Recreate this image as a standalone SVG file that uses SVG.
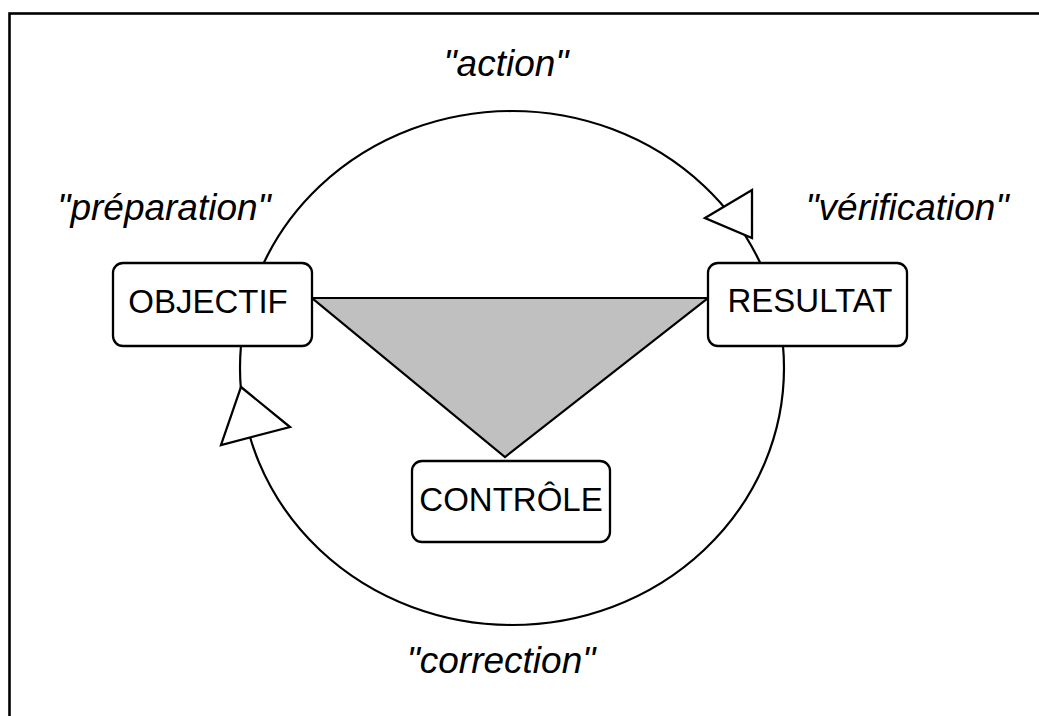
<svg xmlns="http://www.w3.org/2000/svg" width="1039" height="716" viewBox="0 0 1039 716">
<style>
.box{fill:#fff;stroke:#000;stroke-width:2.3}
.lbl{font-family:"Liberation Sans",Arial,sans-serif;font-size:33px;fill:#000;text-anchor:middle}
.it{font-family:"Liberation Sans",Arial,sans-serif;font-size:37px;font-style:italic;fill:#000;text-anchor:middle}
.line{fill:none;stroke:#000;stroke-width:2.2}
.arrow{fill:#fff;stroke:#000;stroke-width:2.3;stroke-linejoin:miter}
</style>
<rect x="0" y="0" width="1039" height="716" fill="#fff"/>
<rect x="9.5" y="13.5" width="1100" height="800" fill="none" stroke="#000" stroke-width="2.6"/>
<g id="connectors">
<ellipse class="line" cx="512" cy="368" rx="272" ry="257"/>
<polygon id="control-triangle" points="312,298 708,298 505,457" fill="#c0c0c0" stroke="#000" stroke-width="2.2" stroke-linejoin="miter"/>
<polygon class="arrow" points="705,218 752,190 752,238"/>
<polygon class="arrow" points="241,387 290,427 221,445"/>
</g>
<g id="node-objectif">
<rect class="box" x="113" y="263" width="199" height="83" rx="10"/>
<text class="lbl" x="208" y="313">OBJECTIF</text>
</g>
<g id="node-resultat">
<rect class="box" x="708" y="263" width="199" height="83" rx="10"/>
<text class="lbl" x="810" y="312">RESULTAT</text>
</g>
<g id="node-controle">
<rect class="box" x="412" y="461" width="198" height="81" rx="10"/>
<text class="lbl" x="511" y="511">CONTRÔLE</text>
</g>
<g id="labels">
<text class="it" x="506" y="76">"action"</text>
<text class="it" x="164" y="220">"préparation"</text>
<text class="it" x="907" y="220">"vérification"</text>
<text class="it" x="501" y="673">"correction"</text>
</g>
</svg>
